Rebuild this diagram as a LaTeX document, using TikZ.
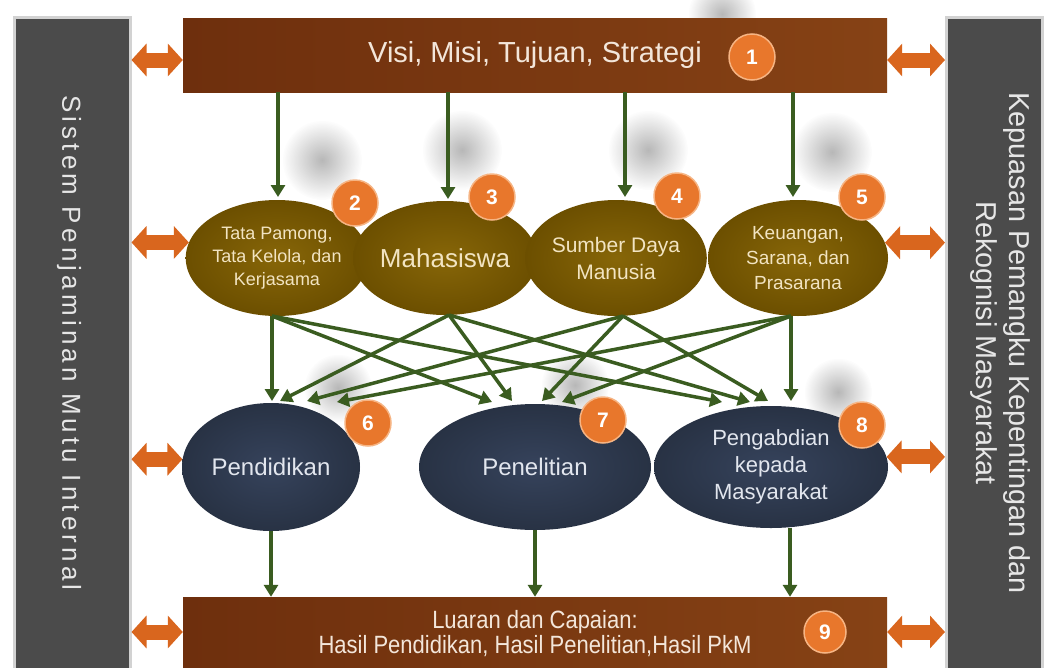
\documentclass[tikz,border=0pt]{standalone}
\usepackage{fontspec}
\setmainfont{Liberation Sans}
\newfontfamily\narrowfont{Liberation Sans}[FakeStretch=0.88]
\newfontfamily\spacedfont{Liberation Sans}[LetterSpace=16]
\usetikzlibrary{shapes.geometric,arrows.meta,fadings}
\definecolor{panelgray}{HTML}{4B4B4B}
\definecolor{panelrim}{HTML}{D2D2D2}
\definecolor{paneltext}{HTML}{E6E6E6}
\definecolor{barL}{HTML}{6E2F0D}
\definecolor{barR}{HTML}{864215}
\definecolor{bartext}{HTML}{F3E6DA}
\definecolor{oliveIn}{HTML}{876608}
\definecolor{oliveOut}{HTML}{6C4F00}
\definecolor{oliveText}{HTML}{F2E4C2}
\definecolor{navyIn}{HTML}{36435C}
\definecolor{navyOut}{HTML}{283244}
\definecolor{navyText}{HTML}{E2E6EE}
\definecolor{badgeorange}{HTML}{E8772C}
\definecolor{badgerim}{HTML}{F6B483}
\definecolor{flowgreen}{HTML}{3A5C20}
\definecolor{dblorange}{HTML}{D9661E}
\tikzfading[name=softblob, inner color=transparent!60, outer color=transparent!100]
\begin{document}
\begin{tikzpicture}[x=1pt,y=-1pt,
  panel/.style={draw=panelrim, line width=2.5pt, fill=panelgray, inner sep=0pt},
  bar/.style={rectangle, left color=barL, right color=barR, inner sep=0pt, text=bartext, align=center},
  oell/.style={ellipse, inner sep=0pt, inner color=oliveIn, outer color=oliveOut, text=oliveText, align=center},
  nell/.style={ellipse, inner sep=0pt, inner color=navyIn, outer color=navyOut, text=navyText, align=center},
  badge/.style={circle, inner sep=0pt, minimum size=46pt, fill=badgeorange, draw=badgerim, line width=1.5pt, text=white, font=\bfseries\fontsize{21}{21}\selectfont},
  flow/.style={draw=flowgreen, line width=3.5pt, -{Triangle[length=12pt,width=14pt]}},
  dbl/.style={draw=dblorange, line width=15pt, {Triangle[length=15pt,width=32pt]}-{Triangle[length=15pt,width=32pt]}}
]
\useasboundingbox (0,0) rectangle (1047,667);
\fill[white] (0,0) rectangle (1047,667);

% soft shadows
\foreach \x/\y/\r in {322/160/40, 462/150/40, 648/150/40, 832/152/40, 338/388/34, 575/385/34, 838/392/34, 722/14/34}
  \fill[black!70, path fading=softblob] (\x,\y) circle (\r pt);

% side panels
\node[panel, anchor=north west, minimum width=116pt, minimum height=670pt] (lp) at (13,16) {};
\node[panel, anchor=north west, minimum width=96pt, minimum height=670pt] (rp) at (945,16) {};
\node[rotate=-90, text=paneltext, font=\spacedfont\fontsize{26}{26}\selectfont] (lt) at (69,343) {Sistem Penjaminan Mutu Internal};
\node[rotate=-90, text=paneltext, align=center, font=\fontsize{28.8}{33}\selectfont] (rt) at (1000,343) {Kepuasan Pemangku Kepentingan dan\\Rekognisi Masyarakat};

% top and bottom bars
\node[bar, minimum width=704pt, minimum height=74pt, font=\fontsize{29}{29}\selectfont] (top) at (535,55) {Visi, Misi, Tujuan, Strategi};
\node[bar, minimum width=704pt, minimum height=74pt, font=\narrowfont\fontsize{25}{25}\selectfont] (bot) at (535,634) {Luaran dan Capaian:\\Hasil Pendidikan, Hasil Penelitian,Hasil PkM};

% row 1
\node[oell, minimum width=178pt, minimum height=116pt, font=\fontsize{18}{23}\selectfont] (e2) at (277,258) {Tata Pamong,\\Tata Kelola, dan\\Kerjasama};
\node[oell, minimum width=160pt, minimum height=114pt, font=\fontsize{26}{26}\selectfont] (e3) at (445,258) {Mahasiswa};
\node[oell, minimum width=178pt, minimum height=116pt, font=\fontsize{21}{27}\selectfont] (e4) at (616,258) {Sumber Daya\\Manusia};
\node[oell, minimum width=180pt, minimum height=116pt, font=\fontsize{19}{25}\selectfont] (e5) at (798,258) {Keuangan,\\Sarana, dan\\Prasarana};

% row 2
\node[nell, minimum width=178pt, minimum height=128pt, font=\fontsize{24}{24}\selectfont] (e6) at (271,467) {Pendidikan};
\node[nell, minimum width=232pt, minimum height=126pt, font=\fontsize{24}{24}\selectfont] (e7) at (535,467) {Penelitian};
\node[nell, minimum width=234pt, minimum height=122pt, font=\fontsize{22}{27}\selectfont] (e8) at (771,467) {Pengabdian\\kepada\\Masyarakat};

% badges
\node[badge] (b1) at (752,57) {1};
\node[badge] (b2) at (355,203) {2};
\node[badge] (b3) at (492,197) {3};
\node[badge] (b4) at (677,196) {4};
\node[badge] (b5) at (862,197) {5};
\node[badge] (b6) at (368,423) {6};
\node[badge] (b7) at (603,420) {7};
\node[badge] (b8) at (862,425) {8};
\node[badge, minimum size=42pt] (b9) at (825,632) {9};

% arrows from top bar
\coordinate (t2) at (278,197);
\coordinate (t3) at (448,199);
\coordinate (t4) at (625,197);
\coordinate (t5) at (793,197);
\foreach \t in {t2,t3,t4,t5} \draw[flow] (top.south -| \t) -- (\t);

% cross arrows
\coordinate (s2) at (272,316);
\coordinate (s3) at (449,315);
\coordinate (s4) at (623,316);
\coordinate (s5) at (791,316);
\coordinate (p62) at (272,401);
\coordinate (p63) at (280,401);
\coordinate (p64) at (307,401);
\coordinate (p65) at (337,402);
\coordinate (p72) at (492,402);
\coordinate (p73) at (512,401);
\coordinate (p74) at (542,401);
\coordinate (p75) at (562,402);
\coordinate (p82) at (722,402);
\coordinate (p83) at (750,402);
\coordinate (p84) at (768,401);
\coordinate (p85) at (791,401);
\foreach \s/\e in {s2/p62,s2/p72,s2/p82,s3/p63,s3/p73,s3/p83,s4/p64,s4/p74,s4/p84,s5/p65,s5/p75,s5/p85}
  \draw[flow] (\s) -- (\e);

% arrows to bottom bar
\coordinate (u8) at (790,528);
\draw[flow] (e6.south) -- (bot.north -| e6.south);
\draw[flow] (e7.south) -- (bot.north -| e7.south);
\draw[flow] (u8) -- (bot.north -| u8);

% double arrows
\coordinate (tw) at ([yshift=-5pt]top.west);
\coordinate (te) at ([yshift=-5pt]top.east);
\draw[dbl] (lp.east |- tw) -- (tw);
\draw[dbl] (te) -- (rp.west |- te);
\draw[dbl] (lp.east |- e2.170) -- (e2.170);
\draw[dbl] (e5.10) -- (rp.west |- e5.10);
\draw[dbl] (lp.east |- e6.175) -- (e6.175);
\draw[dbl] (e8.5) -- (rp.west |- e8.5);
\draw[dbl] (lp.east |- b9) -- (bot.west |- b9);
\draw[dbl] (bot.east |- b9) -- (rp.west |- b9);
\end{tikzpicture}
\end{document}
